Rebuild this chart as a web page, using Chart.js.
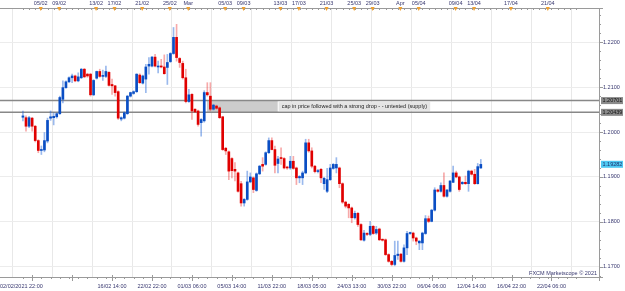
<!DOCTYPE html>
<html>
<head>
<meta charset="utf-8">
<script src="https://cdn.jsdelivr.net/npm/chart.js@4.4.1/dist/chart.umd.min.js"></script>
<style>
html, body { margin: 0; padding: 0; background: #fff; }
</style>
</head>
<body>
<canvas id="eurusd" width="625" height="291"></canvas>
<script>
// EUR/USD 8H candles
const opens = [
  1.2033,1.2032,1.2013,1.2031,1.2013,1.1981,1.1959,1.1960,1.1980,1.2031,
  1.2032,1.2034,1.2041,1.2073,1.2099,1.2112,1.2121,1.2125,1.2114,1.2121,
  1.2140,1.2129,1.2129,1.2083,1.2120,1.2135,1.2124,1.2124,1.2133,1.2106,
  1.2103,1.2090,1.2029,1.2031,1.2041,1.2080,1.2086,1.2090,1.2127,1.2109,
  1.2118,1.2147,1.2147,1.2167,1.2145,1.2147,1.2145,1.2144,1.2157,1.2175,
  1.2211,1.2164,1.2153,1.2121,1.2068,1.2084,1.2051,1.2047,1.2021,1.2025,
  1.2088,1.2080,1.2051,1.2058,1.2054,1.2034,1.1964,1.1956,1.1941,1.1917,
  1.1909,1.1885,1.1842,1.1850,1.1889,1.1898,1.1870,1.1907,1.1928,1.1928,
  1.1954,1.1981,1.1961,1.1930,1.1943,1.1941,1.1922,1.1920,1.1935,1.1920,
  1.1898,1.1898,1.1909,1.1976,1.1958,1.1924,1.1912,1.1917,1.1885,1.1868,
  1.1894,1.1919,1.1920,1.1920,1.1885,1.1844,1.1839,1.1831,1.1809,1.1819,
  1.1794,1.1759,1.1774,1.1772,1.1790,1.1775,1.1784,1.1760,1.1760,1.1727,
  1.1712,1.1705,1.1725,1.1728,1.1712,1.1742,1.1774,1.1775,1.1764,1.1753,
  1.1753,1.1774,1.1807,1.1801,1.1826,1.1871,1.1868,1.1881,1.1857,1.1868,
  1.1888,1.1909,1.1900,1.1885,1.1888,1.1885,1.1913,1.1906,1.1885,1.1920
];
const highs = [
  1.2047,1.2036,1.2035,1.2033,1.2015,1.1983,1.1969,1.1999,1.2031,1.2047,
  1.2043,1.2043,1.2080,1.2114,1.2114,1.2123,1.2129,1.2127,1.2132,1.2142,
  1.2142,1.2131,1.2131,1.2117,1.2136,1.2140,1.2138,1.2147,1.2135,1.2118,
  1.2104,1.2092,1.2034,1.2045,1.2082,1.2089,1.2092,1.2130,1.2130,1.2127,
  1.2151,1.2166,1.2169,1.2173,1.2158,1.2162,1.2172,1.2173,1.2177,1.2233,
  1.2240,1.2166,1.2158,1.2140,1.2095,1.2086,1.2052,1.2049,1.2030,1.2092,
  1.2110,1.2110,1.2062,1.2060,1.2056,1.2035,1.1966,1.1958,1.1943,1.1932,
  1.1911,1.1890,1.1852,1.1913,1.1909,1.1900,1.1909,1.1926,1.1943,1.1956,
  1.1987,1.1987,1.1969,1.1946,1.1965,1.1943,1.1924,1.1946,1.1946,1.1922,
  1.1903,1.1913,1.1984,1.1984,1.1965,1.1926,1.1917,1.1919,1.1899,1.1919,
  1.1928,1.1930,1.1943,1.1922,1.1887,1.1846,1.1841,1.1833,1.1824,1.1821,
  1.1796,1.1781,1.1776,1.1801,1.1792,1.1790,1.1786,1.1762,1.1762,1.1729,
  1.1714,1.1757,1.1757,1.1730,1.1749,1.1779,1.1777,1.1777,1.1766,1.1758,
  1.1777,1.1814,1.1813,1.1828,1.1876,1.1873,1.1887,1.1909,1.1872,1.1892,
  1.1924,1.1913,1.1902,1.1890,1.1902,1.1915,1.1915,1.1917,1.1930,1.1939
];
const lows = [
  1.2025,1.2002,1.2010,1.2002,1.1978,1.1954,1.1950,1.1956,1.1976,1.2026,
  1.2016,1.2031,1.2039,1.2065,1.2097,1.2110,1.2110,1.2112,1.2112,1.2119,
  1.2121,1.2122,1.2080,1.2081,1.2118,1.2122,1.2115,1.2121,1.2102,1.2084,
  1.2080,1.2028,1.2025,1.2029,1.2039,1.2078,1.2084,1.2088,1.2108,1.2107,
  1.2088,1.2129,1.2145,1.2145,1.2132,1.2143,1.2129,1.2106,1.2155,1.2173,
  1.2158,1.2144,1.2118,1.2065,1.2066,1.2028,1.2043,1.2013,1.1991,1.2022,
  1.2080,1.2047,1.2049,1.2051,1.2030,1.1959,1.1950,1.1894,1.1898,1.1891,
  1.1866,1.1835,1.1835,1.1848,1.1887,1.1865,1.1868,1.1905,1.1913,1.1926,
  1.1952,1.1960,1.1909,1.1909,1.1928,1.1918,1.1917,1.1917,1.1917,1.1883,
  1.1887,1.1883,1.1907,1.1955,1.1920,1.1909,1.1909,1.1887,1.1872,1.1865,
  1.1892,1.1917,1.1909,1.1876,1.1841,1.1831,1.1809,1.1798,1.1806,1.1790,
  1.1758,1.1757,1.1769,1.1769,1.1772,1.1772,1.1758,1.1757,1.1725,1.1710,
  1.1702,1.1702,1.1716,1.1710,1.1710,1.1727,1.1772,1.1757,1.1749,1.1738,
  1.1738,1.1772,1.1798,1.1800,1.1824,1.1866,1.1866,1.1855,1.1855,1.1866,
  1.1887,1.1898,1.1868,1.1883,1.1883,1.1868,1.1904,1.1883,1.1884,1.1919
];
const closes = [
  1.2036,1.2013,1.2032,1.2013,1.1981,1.1959,1.1961,1.1981,1.2026,1.2034,
  1.2035,1.2041,1.2077,1.2099,1.2112,1.2121,1.2125,1.2114,1.2123,1.2140,
  1.2123,1.2125,1.2083,1.2115,1.2135,1.2124,1.2125,1.2135,1.2104,1.2103,
  1.2088,1.2031,1.2032,1.2043,1.2080,1.2088,1.2090,1.2129,1.2110,1.2125,
  1.2145,1.2151,1.2167,1.2147,1.2147,1.2145,1.2130,1.2155,1.2175,1.2211,
  1.2166,1.2155,1.2121,1.2068,1.2083,1.2047,1.2045,1.2017,1.2028,1.2088,
  1.2083,1.2051,1.2060,1.2053,1.2032,1.1961,1.1958,1.1913,1.1914,1.1913,
  1.1868,1.1842,1.1850,1.1889,1.1900,1.1872,1.1907,1.1924,1.1924,1.1954,
  1.1981,1.1961,1.1926,1.1940,1.1941,1.1920,1.1920,1.1935,1.1919,1.1898,
  1.1901,1.1909,1.1976,1.1958,1.1924,1.1912,1.1914,1.1898,1.1897,1.1894,
  1.1920,1.1928,1.1928,1.1885,1.1844,1.1835,1.1831,1.1809,1.1819,1.1794,
  1.1760,1.1775,1.1772,1.1790,1.1774,1.1783,1.1760,1.1759,1.1727,1.1712,
  1.1705,1.1725,1.1728,1.1712,1.1742,1.1774,1.1775,1.1764,1.1757,1.1757,
  1.1775,1.1807,1.1801,1.1826,1.1871,1.1868,1.1881,1.1857,1.1871,1.1891,
  1.1909,1.1900,1.1872,1.1888,1.1885,1.1913,1.1906,1.1885,1.1923,1.1928
];

// axis ticks
const priceTicks = [1.17, 1.18, 1.19, 1.20, 1.21, 1.22];
const gridIdx = [3, 16, 29, 42, 55, 68, 81, 94, 107, 120, 133, 146, 159, 172];
const bottomIdx = [0, 29, 42, 55, 68, 81, 94, 107, 120, 133, 146, 159, 172];
const bottomLabels = ["02/02/2021 22:00", "16/02 14:00", "22/02 22:00", "01/03 06:00", "05/03 14:00",
  "11/03 22:00", "18/03 05:00", "24/03 13:00", "30/03 22:00", "06/04 06:00", "12/04 14:00",
  "16/04 22:00", "22/04 06:00"];
const topIdx = [5.8, 11.8, 23.8, 29.8, 38.8, 47.8, 53.8, 65.8, 71.8, 83.8, 89.8, 98.8, 107.8,
  113.8, 122.8, 128.8, 140.8, 146.8, 158.8, 170.8];
const topLabels = ["05/02", "09/02", "13/02", "17/02", "21/02", "25/02", "Mar", "05/03", "09/03",
  "13/03", "17/03", "21/03", "25/03", "29/03", "Apr", "05/04", "09/04", "13/04", "17/04", "21/04"];

// drawn levels and note
const levels = [1.20701, 1.20439];
const lastPrice = 1.19282;
const zone = [59.9, 82.9];
const note = "cap in price followed with a strong drop - - untested (supply)";

const BULL = "#0a4ec4", BEAR = "#e00000";
const BULL_WICK = "rgba(30,100,215,0.45)", BEAR_WICK = "rgba(235,40,40,0.4)";
const TXT = "#37376f";
const FONT = "5.5px 'Liberation Sans', Arial, sans-serif";

const up = opens.map((o, i) => closes[i] >= o);

const marketscope = {
    id: "marketscope",
    beforeDatasetsDraw(chart) {
        const { ctx, chartArea: a, scales: { x, y } } = chart;
        ctx.save();
        const y1 = y.getPixelForValue(levels[0]);
        const y2 = y.getPixelForValue(levels[1]);
        const zx0 = x.getPixelForValue(zone[0]);
        const zx1 = x.getPixelForValue(zone[1]);
        ctx.fillStyle = "#cccccc";
        ctx.fillRect(zx0, y1, zx1 - zx0, y2 - y1);

        ctx.font = FONT;
        const w = ctx.measureText(note).width;
        ctx.fillStyle = "#e4e4e4";
        ctx.fillRect(zx1 + 1, y1 + 1.5, w + 6, y2 - y1 - 3);
        ctx.fillStyle = "#222";
        ctx.textBaseline = "middle";
        ctx.fillText(note, zx1 + 4, (y1 + y2) / 2);

        ctx.strokeStyle = "#888";
        ctx.lineWidth = 1.5;
        levels.forEach(function (v) {
            const py = y.getPixelForValue(v);
            ctx.beginPath();
            ctx.moveTo(a.left, py);
            ctx.lineTo(a.right, py);
            ctx.stroke();
        });
        ctx.restore();
    },
    afterDraw(chart) {
        const { ctx, chartArea: a, scales: { x, y } } = chart;
        ctx.save();
        ctx.strokeStyle = "#9a9a9a";
        ctx.lineWidth = 1;

        // frame: top, bottom, right
        ctx.beginPath();
        ctx.moveTo(a.left, a.top + 0.5); ctx.lineTo(a.right + 4, a.top + 0.5);
        ctx.moveTo(a.left, a.bottom + 0.5); ctx.lineTo(a.right + 4, a.bottom + 0.5);
        ctx.moveTo(a.right + 0.5, a.top); ctx.lineTo(a.right + 0.5, a.bottom + 4);
        ctx.stroke();

        // small ticks on top and bottom axes
        ctx.beginPath();
        for (let i = 0; i <= 180; i += 2) {
            const px = Math.round(x.getPixelForValue(i)) + 0.5;
            ctx.moveTo(px, a.top); ctx.lineTo(px, a.top + 2);
        }
        for (let i = 0; i <= 180; i += 3) {
            const px = Math.round(x.getPixelForValue(i)) + 0.5;
            ctx.moveTo(px, a.bottom); ctx.lineTo(px, a.bottom + 2);
        }
        gridIdx.forEach(function (i) {
            const px = Math.round(x.getPixelForValue(i)) + 0.5;
            ctx.moveTo(px, a.bottom - 2); ctx.lineTo(px, a.bottom + 4);
        });
        // right axis ticks
        for (let v = 1.168; v <= 1.2275; v += 0.002) {
            const py = Math.round(y.getPixelForValue(v)) + 0.5;
            const major = Math.abs(v * 100 - Math.round(v * 100)) < 0.01;
            ctx.moveTo(a.right, py); ctx.lineTo(a.right + (major ? 4 : 2), py);
        }
        ctx.stroke();

        ctx.font = FONT;
        ctx.textBaseline = "middle";

        // top date markers
        topIdx.forEach(function (i, k) {
            const px = x.getPixelForValue(i);
            ctx.fillStyle = "#f0a030";
            ctx.beginPath();
            ctx.moveTo(px - 2, a.top - 1);
            ctx.lineTo(px + 2, a.top - 1);
            ctx.lineTo(px, a.top + 3);
            ctx.closePath();
            ctx.fill();
            ctx.fillStyle = TXT;
            ctx.textAlign = "center";
            ctx.fillText(topLabels[k], px, 3.5);
        });

        // bottom time labels
        bottomIdx.forEach(function (i, k) {
            ctx.fillStyle = TXT;
            if (i === 0) {
                ctx.textAlign = "left";
                ctx.fillText(bottomLabels[k], 0, a.bottom + 9);
            } else {
                ctx.textAlign = "center";
                ctx.fillText(bottomLabels[k], x.getPixelForValue(i), a.bottom + 9);
            }
        });

        // price labels
        ctx.textAlign = "left";
        priceTicks.forEach(function (v) {
            ctx.fillStyle = TXT;
            ctx.fillText(v.toFixed(4), a.right + 4, y.getPixelForValue(v));
        });

        function tag(v, bg, fg) {
            const py = y.getPixelForValue(v);
            ctx.fillStyle = bg;
            ctx.fillRect(a.right + 2, py - 3.5, 22, 7);
            ctx.fillStyle = fg;
            ctx.fillText(v.toFixed(5), a.right + 3.5, py);
        }
        tag(levels[0], "#8a8a8a", "#111");
        tag(levels[1], "#8a8a8a", "#111");
        tag(lastPrice, "#4fc8f2", "#1d2f6b");

        ctx.textAlign = "right";
        ctx.fillStyle = TXT;
        ctx.fillText("FXCM Marketscope \u00a9 2021", a.right - 2, a.bottom - 4);
        ctx.restore();
    },
};

new Chart(document.getElementById("eurusd").getContext("2d"), {
    type: "bar",
    data: {
        datasets: [
            {
                label: "body",
                data: opens.map((o, i) => ({ x: i, y: [o, closes[i]] })),
                backgroundColor: up.map((u) => (u ? BULL : BEAR)),
                barThickness: 2,
                minBarLength: 1,
                grouped: false,
                order: 0,
            },
            {
                label: "wick",
                data: lows.map((l, i) => ({ x: i, y: [l, highs[i]] })),
                backgroundColor: up.map((u) => (u ? BULL_WICK : BEAR_WICK)),
                barThickness: 1,
                grouped: false,
                order: 1,
            },
        ],
    },
    options: {
        responsive: false,
        animation: false,
        layout: { padding: { left: 0, top: 8, right: 26, bottom: 14 } },
        plugins: { legend: { display: false }, tooltip: { enabled: false } },
        scales: {
            x: {
                type: "linear",
                min: -0.5,
                max: 180.5,
                afterBuildTicks: (s) => { s.ticks = gridIdx.map((v) => ({ value: v })); },
                afterFit: (s) => { s.height = 0; },
                ticks: { display: false },
                grid: { color: "#e8e8e8", drawTicks: false },
                border: { display: false },
            },
            y: {
                position: "right",
                min: 1.16771,
                max: 1.22764,
                afterBuildTicks: (s) => { s.ticks = priceTicks.map((v) => ({ value: v })); },
                afterFit: (s) => { s.width = 0; },
                ticks: { display: false },
                grid: { color: "#ececec", drawTicks: false },
                border: { display: false },
            },
        },
    },
    plugins: [marketscope],
});
</script>
</body>
</html>
